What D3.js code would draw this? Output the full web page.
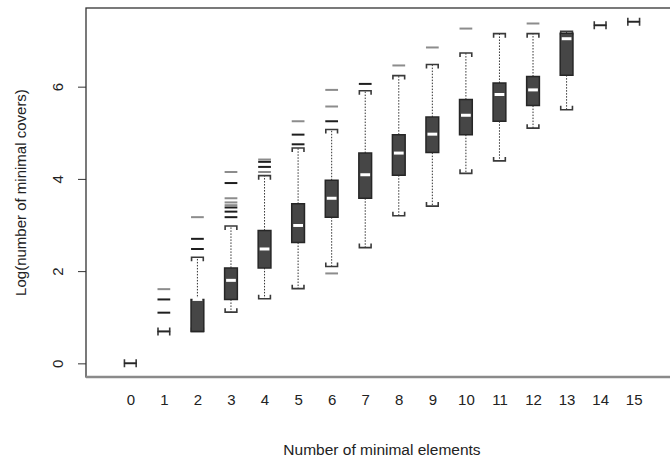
<!DOCTYPE html>
<html>
<head>
<meta charset="utf-8">
<script src="https://cdn.jsdelivr.net/npm/d3@7"></script>
<style>
  body { margin: 0; background: #fff; }
  text { font-family: "Liberation Sans", Arial, sans-serif; fill: #222; }
</style>
</head>
<body>
<div id="boxes"></div>
<script>
// log(number of minimal covers) by number of minimal elements
const groups   = [0, 1, 2, 3, 4, 5, 6, 7, 8, 9, 10, 11, 12, 13, 14, 15];
const whiskLo  = [0, 0.693, 0.693, 1.11, 1.40, 1.62, 2.10, 2.51, 3.20, 3.41, 4.12, 4.39, 5.10, 5.50, 7.33, 7.41];
const q1       = [0, 0.693, 0.693, 1.386, 2.07, 2.62, 3.17, 3.58, 4.08, 4.57, 4.96, 5.25, 5.59, 6.25, 7.33, 7.41];
const medians  = [0, 0.693, 1.386, 1.80, 2.48, 2.99, 3.58, 4.09, 4.56, 4.97, 5.38, 5.83, 5.93, 7.04, 7.33, 7.41];
const q3       = [0, 0.693, 1.386, 2.07, 2.88, 3.46, 3.97, 4.56, 4.96, 5.34, 5.72, 6.08, 6.22, 7.16, 7.33, 7.41];
const whiskHi  = [0, 0.693, 2.30, 2.98, 4.07, 4.67, 5.07, 5.91, 6.24, 6.48, 6.73, 7.15, 7.15, 7.20, 7.33, 7.41];
const outliers = [
  [], [1.099, 1.386, 1.609], [2.48, 2.70, 3.17],
  [3.17, 3.29, 3.38, 3.43, 3.49, 3.58, 3.91, 4.15],
  [4.15, 4.26, 4.37, 4.42], [4.75, 4.96, 5.25], [1.95, 5.25, 5.57, 5.93],
  [6.06], [6.46], [6.85], [7.26], [], [7.37], [], [], []
];
// 2 = several points stacked on the same value (they print darker)
const outlierDup = [
  [], [2, 2, 1], [2, 2, 1],
  [2, 2, 2, 1, 1, 1, 2, 1],
  [1, 2, 2, 1], [2, 2, 1], [1, 2, 1, 1],
  [2], [1], [1], [1], [], [1], [], [], []
];
const yTicks = [0, 2, 4, 6];

const width = 670, height = 457;
const plot = {left: 86, right: 678, top: 8, bottom: 377};

const svg = d3.select("#boxes").append("svg")
  .attr("width", width)
  .attr("height", height);

const x = d3.scaleLinear().domain([-1.32, 16.32]).range([plot.left, plot.right]);
const y = d3.scaleLinear().domain([-0.296, 7.706]).range([plot.bottom, plot.top]);

const bw = (x(1) - x(0)) * 0.38;   // box width
const sw = bw * 0.46;              // half staple width
const tk = 4;                      // staple end ticks

const data = groups.map((g, i) => ({
  g, lo: whiskLo[i], q1: q1[i], med: medians[i], q3: q3[i], hi: whiskHi[i],
  out: outliers[i].map((v, j) => ({v, dup: outlierDup[i][j]}))
}));

const box = svg.append("g");

// whiskers (dotted)
box.selectAll(".wh").data(data).enter().append("path")
  .attr("d", d => `M${x(d.g)},${y(d.q3)}V${y(d.hi)}M${x(d.g)},${y(d.q1)}V${y(d.lo)}`)
  .attr("stroke", "#333")
  .attr("stroke-width", 1)
  .attr("stroke-dasharray", "1.5,1.5")
  .attr("fill", "none");

// staples, little brackets pointing at the box
box.selectAll(".st").data(data).enter().append("path")
  .attr("d", d => {
    const cx = x(d.g), h = y(d.hi), l = y(d.lo);
    return `M${cx - sw},${h + tk}V${h}H${cx + sw}V${h + tk}` +
           `M${cx - sw},${l - tk}V${l}H${cx + sw}V${l - tk}`;
  })
  .attr("stroke", "#3a3a3a")
  .attr("stroke-width", 1.6)
  .attr("fill", "none");

// boxes
box.selectAll(".bx").data(data).enter().append("path")
  .attr("d", d => `M${x(d.g) - bw / 2},${y(d.q3)}H${x(d.g) + bw / 2}V${y(d.q1)}H${x(d.g) - bw / 2}Z`)
  .attr("fill", "#464646")
  .attr("stroke", "#262626")
  .attr("stroke-width", 1.5);

// medians
box.selectAll(".md").data(data.filter(d => d.q3 > d.q1)).enter().append("line")
  .attr("x1", d => x(d.g) - bw / 2 + 1.5)
  .attr("x2", d => x(d.g) + bw / 2 - 1.5)
  .attr("y1", d => y(d.med))
  .attr("y2", d => y(d.med))
  .attr("stroke", "#fff")
  .attr("stroke-width", 3);

// outliers drawn as dashes
box.selectAll(".ol").data(data.flatMap(d => d.out.map(o => ({g: d.g, v: o.v, dup: o.dup}))))
  .enter().append("line")
  .attr("x1", d => x(d.g) - bw / 2)
  .attr("x2", d => x(d.g) + bw / 2)
  .attr("y1", d => y(d.v))
  .attr("y2", d => y(d.v))
  .attr("stroke", d => d.dup > 1 ? "#1e1e1e" : "#8c8c8c")
  .attr("stroke-width", 2);

// frame
svg.append("rect")
  .attr("x", plot.left)
  .attr("y", plot.top)
  .attr("width", plot.right - plot.left)
  .attr("height", plot.bottom - plot.top)
  .attr("fill", "none")
  .attr("stroke", "#333")
  .attr("stroke-width", 1.3);
svg.append("line")
  .attr("x1", plot.left).attr("x2", plot.right)
  .attr("y1", plot.bottom).attr("y2", plot.bottom)
  .attr("stroke", "#8a8a8a")
  .attr("stroke-width", 2.4);

// y axis
const yAxis = svg.append("g")
  .attr("transform", `translate(${plot.left},0)`)
  .call(d3.axisLeft(y).tickValues(yTicks).tickSize(8).tickFormat(d3.format("d")));
yAxis.select(".domain").remove();
yAxis.selectAll(".tick line").attr("stroke", "#333");
yAxis.selectAll(".tick text")
  .attr("x", null).attr("dy", null)
  .attr("transform", "translate(-23,0) rotate(-90)")
  .attr("text-anchor", "middle")
  .style("font-size", "15px")
  .style("font-family", "'Liberation Sans', Arial, sans-serif")
  .attr("fill", "#222");

// x axis: labels only
const xAxis = svg.append("g")
  .attr("transform", `translate(0,${plot.bottom})`)
  .call(d3.axisBottom(x).tickValues(groups).tickSize(0).tickPadding(17).tickFormat(d3.format("d")));
xAxis.select(".domain").remove();
xAxis.selectAll(".tick text")
  .style("font-size", "15px")
  .style("font-family", "'Liberation Sans', Arial, sans-serif")
  .attr("fill", "#222");

// titles
svg.append("text")
  .attr("x", (plot.left + plot.right) / 2)
  .attr("y", 455)
  .attr("text-anchor", "middle")
  .style("font-size", "15.5px")
  .text("Number of minimal elements");

svg.append("text")
  .attr("transform", `translate(26,${(plot.top + plot.bottom) / 2}) rotate(-90)`)
  .attr("text-anchor", "middle")
  .style("font-size", "15px")
  .text("Log(number of minimal covers)");
</script>
</body>
</html>
